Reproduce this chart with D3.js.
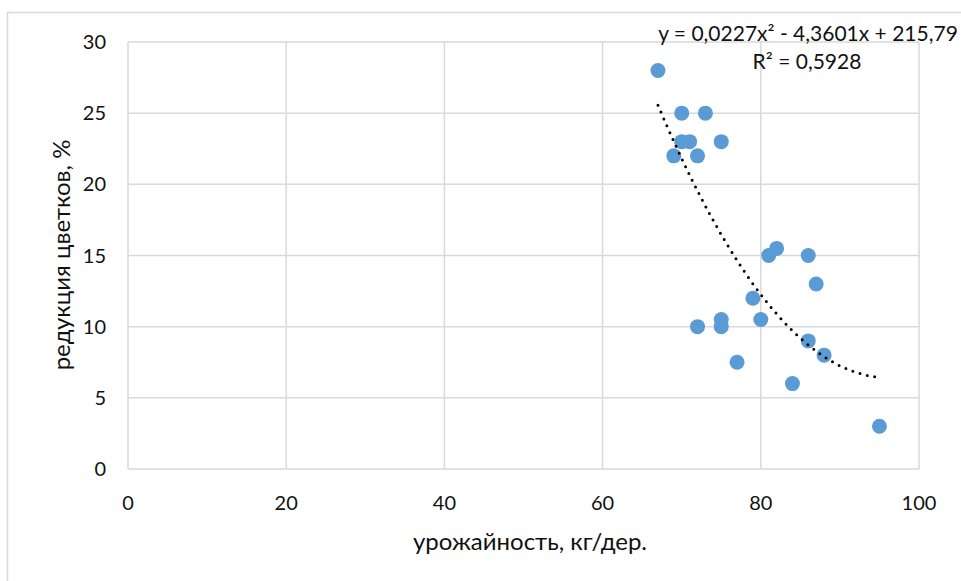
<!DOCTYPE html>
<html>
<head>
<meta charset="utf-8">
<script src="https://cdn.jsdelivr.net/npm/d3@7"></script>
<style>
  body { margin: 0; background: #fff; }
  text { font-family: Lato, "Open Sans", sans-serif; fill: #111; }
</style>
</head>
<body>
<svg width="961" height="581"></svg>
<script>
// data
var yieldKg = [67, 70, 73, 70, 71, 75, 69, 72, 81, 82, 86, 87, 79, 75, 75, 72, 80, 86, 88, 77, 84, 95];
var reduction = [28, 25, 25, 23, 23, 23, 22, 22, 15, 15.5, 15, 13, 12, 10.5, 10, 10, 10.5, 9, 8, 7.5, 6, 3];
var xTicks = [0, 20, 40, 60, 80, 100];
var yTicks = [0, 5, 10, 15, 20, 25, 30];
// trendline coefficients from the label
var coef = [0.0227, -4.3601, 215.79];
var eqText = "y = 0,0227x² - 4,3601x + 215,79";
var r2Text = "R² = 0,5928";

var svg = d3.select("svg");
var margin = { left: 128, right: 42, top: 42, bottom: 112 };
var width = +svg.attr("width");
var height = +svg.attr("height");

// outer chart border (left + top only visible)
svg.append("path")
  .attr("d", "M7.5,581 V12.5 H961")
  .attr("fill", "none")
  .attr("stroke", "#d9d9d9")
  .attr("stroke-width", 1.5);

var x = d3.scaleLinear().domain([0, 100]).range([margin.left, width - margin.right]);
var y = d3.scaleLinear().domain([0, 30]).range([height - margin.bottom, margin.top]);

var grid = svg.append("g");
grid.selectAll(".vx")
  .data(xTicks)
  .enter()
  .append("line")
  .attr("x1", d => x(d)).attr("x2", d => x(d))
  .attr("y1", y(0)).attr("y2", y(30))
  .attr("stroke", "#d9d9d9")
  .attr("stroke-width", 1.5);
grid.selectAll(".hy")
  .data(yTicks)
  .enter()
  .append("line")
  .attr("x1", x(0)).attr("x2", x(100))
  .attr("y1", d => y(d)).attr("y2", d => y(d))
  .attr("stroke", "#d9d9d9")
  .attr("stroke-width", 1.5);

// tick labels
svg.append("g")
  .selectAll("text")
  .data(xTicks)
  .enter()
  .append("text")
  .attr("x", d => x(d))
  .attr("y", 510)
  .attr("text-anchor", "middle")
  .style("font-size", "20px")
  .text(d => d);

svg.append("g")
  .selectAll("text")
  .data(yTicks)
  .enter()
  .append("text")
  .attr("x", 106)
  .attr("y", d => y(d) + 7)
  .attr("text-anchor", "end")
  .style("font-size", "20px")
  .text(d => d);

// axis titles
svg.append("text")
  .attr("x", 530)
  .attr("y", 550)
  .attr("text-anchor", "middle")
  .style("font-size", "24px")
  .text("урожайность, кг/дер.");

svg.append("text")
  .attr("transform", "translate(70," + 255 + ") rotate(-90)")
  .attr("text-anchor", "middle")
  .style("font-size", "24px")
  .text("редукция цветков, %");

// points
var pts = yieldKg.map((v, i) => ({ x: v, y: reduction[i] }));
svg.append("g")
  .selectAll("circle")
  .data(pts)
  .enter()
  .append("circle")
  .attr("cx", d => x(d.x))
  .attr("cy", d => y(d.y))
  .attr("r", 7.5)
  .attr("fill", "#5b9bd5");

// polynomial trendline
var xmin = d3.min(yieldKg), xmax = d3.max(yieldKg);
var trend = d3.range(xmin, xmax + 0.01, 0.25).map(v => ({ x: v, y: coef[0] * v * v + coef[1] * v + coef[2] }));
var line = d3.line().x(d => x(d.x)).y(d => y(d.y));
svg.append("path")
  .datum(trend)
  .attr("d", line)
  .attr("fill", "none")
  .attr("stroke", "#000")
  .attr("stroke-width", 3)
  .attr("stroke-linecap", "round")
  .attr("stroke-dasharray", "0,7.5");

// equation labels
svg.append("text")
  .attr("x", 808)
  .attr("y", 41)
  .attr("text-anchor", "middle")
  .style("font-size", "21px")
  .text(eqText);
svg.append("text")
  .attr("x", 807)
  .attr("y", 69)
  .attr("text-anchor", "middle")
  .style("font-size", "21px")
  .text(r2Text);
</script>
</body>
</html>
